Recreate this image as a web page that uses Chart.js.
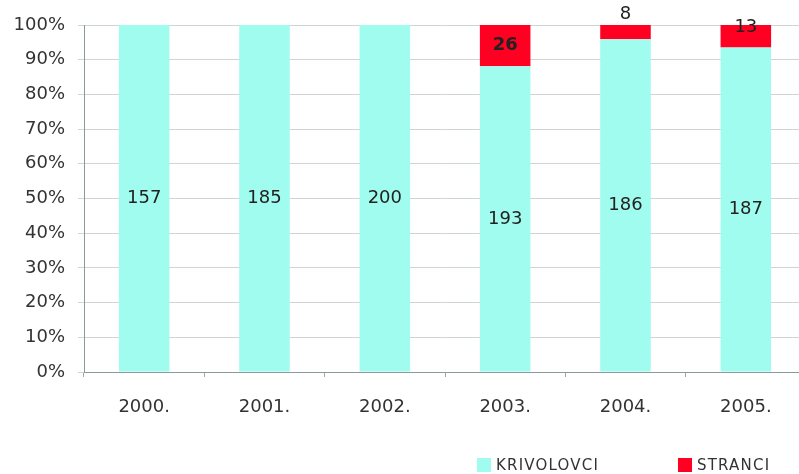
<!DOCTYPE html>
<html lang="hr">
<head>
  <meta charset="UTF-8">
  <title>Krivolovci i stranci</title>
  <script src="https://cdn.jsdelivr.net/npm/chart.js"></script>
  <style>
    html, body { margin: 0; padding: 0; background: #fff; overflow: hidden; }
    #wrap { position: relative; width: 806px; height: 474px; }
    #legend { position: absolute; top: 456px; left: 477px; font: 15px "DejaVu Sans", sans-serif; letter-spacing: 1.2px; color: #333; line-height: 18px; }
    #legend span.item { position: absolute; white-space: nowrap; }
    #legend i { display: inline-block; width: 14px; height: 14px; margin-right: 5px; vertical-align: -2px; }
  </style>
</head>
<body>
  <div id="wrap">
    <canvas id="myChart" width="806" height="474"></canvas>
    <div id="legend">
      <span class="item" style="left:0"><i style="background:#9ffcee"></i>KRIVOLOVCI</span>
      <span class="item" style="left:201px"><i style="background:#ff0022"></i>STRANCI</span>
    </div>
  </div>
  <script>
    const years = ['2000.', '2001.', '2002.', '2003.', '2004.', '2005.'];
    const krivolovci = [157, 185, 200, 193, 186, 187];
    const stranci = [0, 0, 0, 26, 8, 13];

    // turn counts into shares of each year's total
    const totals = years.map((y, i) => krivolovci[i] + stranci[i]);
    const pct = arr => arr.map((v, i) => v / totals[i] * 100);

    const counts = [krivolovci, stranci];

    // writes the raw count on each segment
    const valueLabels = {
      id: 'valueLabels',
      afterDatasetsDraw(chart) {
        const ctx = chart.ctx;
        ctx.save();
        ctx.textAlign = 'center';
        ctx.textBaseline = 'middle';
        chart.data.datasets.forEach((ds, di) => {
          chart.getDatasetMeta(di).data.forEach((bar, i) => {
            const n = counts[di][i];
            if (!n) return;
            const top = Math.min(bar.y, bar.base);
            const h = Math.abs(bar.base - bar.y);
            let y = top + h / 2;
            if (h < 30) y -= (32 - h);
            ctx.font = (di === 1 && h >= 30 ? 'bold ' : '') + '18px "DejaVu Sans", sans-serif';
            ctx.fillStyle = '#222';
            ctx.fillText(n, bar.x, y);
          });
        });
        ctx.restore();
      }
    };

    const ctx = document.getElementById('myChart').getContext('2d');
    const myChart = new Chart(ctx, {
      type: 'bar',
      data: {
        labels: years,
        datasets: [
          { label: 'KRIVOLOVCI', data: pct(krivolovci), backgroundColor: '#9ffcee', barPercentage: 0.84, categoryPercentage: 0.5 },
          { label: 'STRANCI', data: pct(stranci), backgroundColor: '#ff0022', barPercentage: 0.84, categoryPercentage: 0.5 }
        ]
      },
      plugins: [valueLabels],
      options: {
        responsive: false,
        animation: false,
        layout: { padding: { top: 25, left: 0, right: 0, bottom: 0 } },
        plugins: { legend: { display: false }, tooltip: { enabled: false } },
        scales: {
          x: {
            stacked: true,
            grid: { drawOnChartArea: false, tickLength: 5, color: '#9aa' },
            border: { color: '#8a9a9a' },
            ticks: { color: '#333', font: { size: 18, family: 'DejaVu Sans' }, padding: 20 },
            afterFit(s) { s.height = 102; }
          },
          y: {
            stacked: true,
            min: 0,
            max: 100,
            grid: { color: '#cdd5d5', tickLength: 6 },
            border: { color: '#8a9a9a' },
            ticks: { stepSize: 10, color: '#333', font: { size: 18, family: 'DejaVu Sans' }, padding: 13, callback: v => v + '%' },
            afterFit(s) { s.width = 84; }
          }
        }
      }
    });
  </script>
</body>
</html>
